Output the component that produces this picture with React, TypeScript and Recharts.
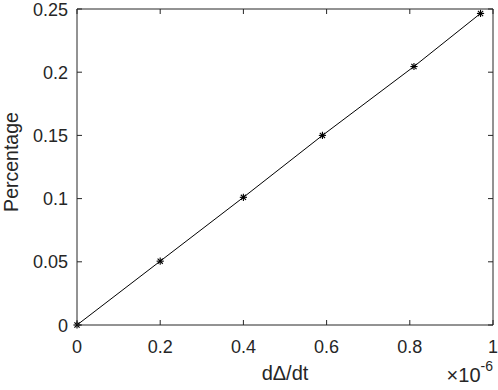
import React from 'react';
import { LineChart, Line, XAxis, YAxis } from 'recharts';

// x values are in units of 1e-6 (axis shows ×10^-6)
const xValues = [0, 0.2, 0.4, 0.59, 0.81, 0.97];
const yValues = [0, 0.0505, 0.101, 0.15, 0.2045, 0.2465];
const xTicks = [0, 0.2, 0.4, 0.6, 0.8, 1];
const yTicks = [0, 0.05, 0.1, 0.15, 0.2, 0.25];
const xLabel = 'dΔ/dt';
const yLabel = 'Percentage';
const xScaleBase = '×10';
const xScaleExp = '-6';

const data = xValues.map((x, i) => ({ x, y: yValues[i] }));

const AXIS = '#262626';
const FONT = 'Arial, "Liberation Sans", Helvetica, sans-serif';
const TICK_LEN = 5;

const Star = (props: any) => {
  const { cx, cy, index } = props;
  if (cx == null || cy == null) return <g key={`s${index}`} />;
  const r = 3.6;
  const d = r * 0.72;
  return (
    <g key={`s${index}`} stroke="#000" strokeWidth={1.1}>
      <line x1={cx - r} y1={cy} x2={cx + r} y2={cy} />
      <line x1={cx} y1={cy - r} x2={cx} y2={cy + r} />
      <line x1={cx - d} y1={cy - d} x2={cx + d} y2={cy + d} />
      <line x1={cx - d} y1={cy + d} x2={cx + d} y2={cy - d} />
    </g>
  );
};

const BottomTick = (props: any) => {
  const { x, y, payload } = props;
  return (
    <g>
      <line x1={x} y1={y} x2={x} y2={y - TICK_LEN} stroke={AXIS} strokeWidth={1} />
      <text x={x} y={y + 28} textAnchor="middle" fontSize={18} fontFamily={FONT} fill={AXIS}>
        {String(payload.value)}
      </text>
    </g>
  );
};

const LeftTick = (props: any) => {
  const { x, y, payload } = props;
  return (
    <g>
      <line x1={x} y1={y} x2={x + TICK_LEN} y2={y} stroke={AXIS} strokeWidth={1} />
      <text x={x - 9} y={y + 6.5} textAnchor="end" fontSize={18} fontFamily={FONT} fill={AXIS}>
        {String(payload.value)}
      </text>
    </g>
  );
};

const TopTick = (props: any) => {
  const { x, y } = props;
  return <line x1={x} y1={y} x2={x} y2={y + TICK_LEN} stroke={AXIS} strokeWidth={1} />;
};

const RightTick = (props: any) => {
  const { x, y } = props;
  return <line x1={x} y1={y} x2={x - TICK_LEN} y2={y} stroke={AXIS} strokeWidth={1} />;
};

const XLabelContent = (props: any) => {
  const vb = props.viewBox || {};
  const left = vb.x ?? 77;
  const width = vb.width ?? 416;
  const top = vb.y ?? 325;
  return (
    <g fontFamily={FONT} fill={AXIS}>
      <text x={left + width / 2} y={top + 55} textAnchor="middle" fontSize={20} fill={AXIS}>
        {xLabel}
      </text>
      <text x={left + width} y={top + 57} textAnchor="end" fontSize={20} fill={AXIS}>
        <tspan>{xScaleBase}</tspan>
        <tspan fontSize={14} dy={-11}>{xScaleExp}</tspan>
      </text>
    </g>
  );
};

const YLabelContent = (props: any) => {
  const vb = props.viewBox || {};
  const top = vb.y ?? 9;
  const height = vb.height ?? 316;
  const cx = 17.5;
  const cy = top + height / 2 - 5;
  return (
    <text
      x={cx}
      y={cy}
      textAnchor="middle"
      fontSize={19.5}
      fontFamily={FONT}
      fill={AXIS}
      transform={`rotate(-90, ${cx}, ${cy})`}
    >
      {yLabel}
    </text>
  );
};

export default function App() {
  return (
    <div style={{ position: 'absolute', left: 0, top: 0, background: '#fff' }}>
      <LineChart
        width={498}
        height={390}
        data={data}
        margin={{ top: 8, right: 4, bottom: 0, left: 0 }}
        style={{ fontFamily: FONT }}
      >
        <XAxis
          dataKey="x"
          type="number"
          domain={[0, 1]}
          ticks={xTicks}
          interval={0}
          height={65}
          tickSize={0}
          tickMargin={0}
          tickLine={false}
          stroke={AXIS}
          tick={BottomTick}
          label={{ content: XLabelContent }}
        />
        <XAxis
          xAxisId="top"
          orientation="top"
          dataKey="x"
          type="number"
          domain={[0, 1]}
          ticks={xTicks}
          interval={0}
          height={1}
          tickSize={0}
          tickMargin={0}
          tickLine={false}
          stroke={AXIS}
          tick={TopTick}
        />
        <YAxis
          dataKey="y"
          type="number"
          domain={[0, 0.25]}
          ticks={yTicks}
          interval={0}
          width={77}
          tickSize={0}
          tickMargin={0}
          tickLine={false}
          stroke={AXIS}
          tick={LeftTick}
          label={{ content: YLabelContent }}
        />
        <YAxis
          yAxisId="right"
          orientation="right"
          dataKey="y"
          type="number"
          domain={[0, 0.25]}
          ticks={yTicks}
          interval={0}
          width={1}
          tickSize={0}
          tickMargin={0}
          tickLine={false}
          stroke={AXIS}
          tick={RightTick}
        />
        <Line
          type="linear"
          dataKey="y"
          stroke="#000"
          strokeWidth={1}
          dot={Star}
          activeDot={false}
          isAnimationActive={false}
        />
      </LineChart>
    </div>
  );
}
